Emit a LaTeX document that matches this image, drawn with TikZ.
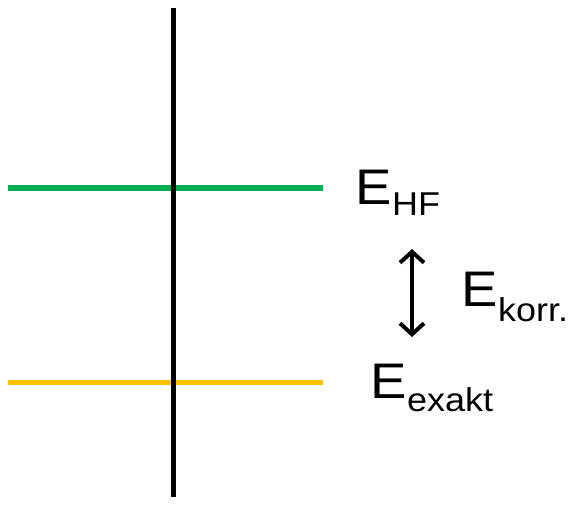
\documentclass[tikz,border=0pt]{standalone}
\usepackage{fontspec}
\setmainfont{Liberation Sans}
\usetikzlibrary{arrows.meta}
\definecolor{hfgreen}{RGB}{0,176,80}
\definecolor{exyellow}{RGB}{255,192,0}
\tikzset{
  level/.style={line width=5.5pt},
  axis/.style={line width=5pt,black},
  lbl/.style={anchor=base west,inner sep=0pt,text=black},
  dbl/.style={line width=4pt,{Straight Barb[length=11pt,width=24pt,line width=4pt]}-{Straight Barb[length=11pt,width=24pt,line width=4pt]}}
}
\newcommand{\lev}[3]{\scalebox{1.09}[1]{{\fontsize{50}{50}\selectfont #1}\raisebox{-#3pt}{\fontsize{33}{33}\selectfont #2}}}
\begin{document}
\begin{tikzpicture}[x=1pt,y=-1pt]
\useasboundingbox (0,0) rectangle (572,504);
\coordinate (g1) at (8,188);
\coordinate (g2) at (323,188);
\coordinate (y1) at (8,382.5);
\coordinate (y2) at (323,382.5);
\coordinate (v1) at (173,8);
\coordinate (v2) at (173,497);
\coordinate (a1) at (412,249);
\coordinate (a2) at (412,337);
\draw[level,hfgreen] (g1) -- (g2);
\draw[level,exyellow] (y1) -- (y2);
\draw[axis] (v1) -- (v2);
\draw[dbl] (a1) -- (a2);
\node[lbl] (ehf) at (355.6,204.3) {\lev{E}{HF}{11}};
\node[lbl] (ekorr) at (461.6,306.7) {\lev{E}{korr.}{15}};
\node[lbl] (eex) at (370.6,398.3) {\lev{E}{exakt}{13}};
\end{tikzpicture}
\end{document}
